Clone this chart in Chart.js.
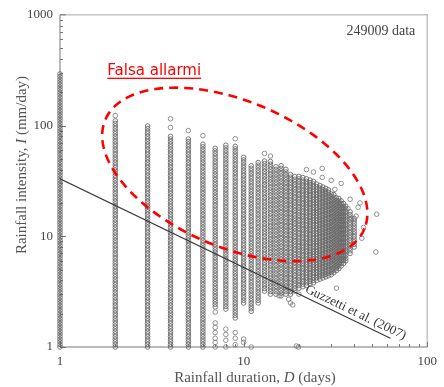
<!DOCTYPE html>
<html>
<head>
<meta charset="utf-8">
<script src="https://cdn.jsdelivr.net/npm/chart.js@4.4.1/dist/chart.umd.min.js"></script>
<style>
  html, body { margin: 0; padding: 0; background: #fff; }
  #wrap { width: 444px; height: 387px; }
</style>
</head>
<body>
<div id="wrap"><canvas id="myChart"></canvas></div>
<script>
// durations (days) holding a dense column of events, with the column's lower and upper intensity
const durations = [1, 2, 3, 4, 5, 6, 7, 8, 9, 10, 11, 12, 13, 14, 15, 16, 17, 18, 19, 20,
    21, 22, 23, 24, 25, 26, 27, 28, 29, 30, 31, 32, 33, 34, 35, 36, 38, 40];
const bandLow = [1, 1, 1, 1, 1, 1, 2.3, 2.2, 1.83, 2.5, 2.1, 2.5, 3.2, 3.0, 3.0, 2.9, 3.0, 3.0, 3.2, 3.4,
    3.5, 3.6, 3.7, 3.8, 4.0, 4.1, 4.2, 4.3, 4.4, 4.5, 4.7, 4.9, 5.1, 5.4, 5.7, 6.0, 7.0, 8.0];
const bandHigh = [300, 115, 100, 83, 75, 69, 65, 67, 67, 53, 44, 47, 49, 47, 44, 44, 40, 37, 36, 35,
    34, 33, 32, 31, 30, 29, 28, 27, 26, 25, 24, 23, 22, 21, 20, 19, 17, 15];

// isolated events outside the dense columns
const outlierD = [2, 4, 4, 5, 6, 9,
    7, 7, 7, 7, 7, 7, 7, 8, 8, 8, 8, 9, 9, 9, 10, 10, 11,
    13, 14, 15.6, 17.6, 18, 18.5, 19.4, 19.9, 20, 32,
    22, 24, 26.8, 26.8, 30, 31.4, 34, 37, 38, 38.6, 41, 42, 43, 45, 44, 52.5, 53];
const outlierI = [123, 96, 115, 90, 81, 76,
    2.07, 1.65, 1.5, 1.35, 1.2, 1.1, 1.0, 1.45, 1.3, 1.15, 1.0, 1.35, 1.2, 1.05, 1.18, 1.1, 1.0,
    56, 53, 2.9, 2.7, 2.5, 2.4, 1.02, 1.0, 3.0, 3.4,
    40, 38, 41, 34, 32, 26.5, 30, 17.8, 21.6, 14.5, 15.2, 18.3, 20, 12, 9.6, 7.2, 15.8];

// Guzzetti et al. (2007) threshold, end points
const thresholdD = [1, 63];
const thresholdI = [33, 1.2];
const thresholdLabelD = 39;

const xTicks = [1, 10, 100];
const yTicks = [1, 10, 100, 1000];

// false alarm region: ellipse in log-log space (centre, two conjugate semi-axes in decades)
const alarmCenter = [8.95, 36.2];
const alarmAxisA = [0.7065, -0.4882];
const alarmAxisB = [-0.1492, -0.6126];
const alarmLabelAt = [1.81, 288];

const serif = '"Liberation Serif", "Times New Roman", serif';

const frame = {
    id: 'frame',
    beforeDatasetsDraw(chart) {
        const c = chart.ctx;
        const { left, right, top, bottom } = chart.chartArea;
        const xs = chart.scales.x, ys = chart.scales.y;
        c.save();
        // light top / right border
        c.strokeStyle = '#c4c4c4';
        c.lineWidth = 1.5;
        c.beginPath();
        c.moveTo(left, top); c.lineTo(right, top); c.lineTo(right, bottom);
        c.stroke();
        // axes
        c.strokeStyle = '#777';
        c.lineWidth = 1;
        c.beginPath();
        c.moveTo(left, top); c.lineTo(left, bottom); c.lineTo(right, bottom);
        c.stroke();
        // inward ticks
        c.beginPath();
        for (let d = 1; d <= 100; d *= 10) {
            for (let m = 1; m <= 9; m++) {
                const len = m === 1 ? 6 : 3;
                const py = Math.round(ys.getPixelForValue(d * m)) + 0.5;
                c.moveTo(left, py); c.lineTo(left + len, py);
                if (d < 100 || m === 1) {
                    const px = Math.round(xs.getPixelForValue(d * m)) + 0.5;
                    c.moveTo(px, bottom); c.lineTo(px, bottom - (m === 1 ? 5 : 3));
                }
            }
        }
        c.moveTo(left, ys.getPixelForValue(1000)); c.lineTo(left + 6, ys.getPixelForValue(1000));
        c.stroke();
        c.restore();
    },
    afterDatasetDraw(chart, args) {
        // each band is drawn as a stack of open circles
        if (args.meta.type !== 'bar') return;
        const c = chart.ctx;
        c.save();
        c.strokeStyle = '#666';
        c.lineWidth = 0.85;
        args.meta.data.forEach(bar => {
            const y0 = Math.min(bar.y, bar.base), y1 = Math.max(bar.y, bar.base);
            for (let y = y1; y >= y0 - 0.5; y -= 2.6) {
                c.beginPath();
                c.arc(bar.x, y, 2.3, 0, Math.PI * 2);
                c.stroke();
            }
        });
        c.restore();
    },
    afterDatasetsDraw(chart) {
        const c = chart.ctx;
        const { left, right, top, bottom } = chart.chartArea;
        const xs = chart.scales.x, ys = chart.scales.y;
        c.save();

        // threshold label along the line
        const p0x = xs.getPixelForValue(thresholdD[0]), p0y = ys.getPixelForValue(thresholdI[0]);
        const p1x = xs.getPixelForValue(thresholdD[1]), p1y = ys.getPixelForValue(thresholdI[1]);
        const ang = Math.atan2(p1y - p0y, p1x - p0x);
        const lx = xs.getPixelForValue(thresholdLabelD);
        const ly = p0y + (lx - p0x) * Math.tan(ang);
        c.translate(lx + 8 * Math.sin(ang), ly - 8 * Math.cos(ang));
        c.rotate(ang);
        c.font = '13px ' + serif;
        c.fillStyle = '#333';
        c.textAlign = 'center';
        c.textBaseline = 'middle';
        c.fillText('Guzzetti et al. (2007)', 0, 0);
        c.setTransform(1, 0, 0, 1, 0, 0);

        // false alarm ellipse
        c.strokeStyle = '#ff0000';
        c.lineWidth = 2.6;
        c.setLineDash([9, 6]);
        c.beginPath();
        const cx = Math.log10(alarmCenter[0]), cy = Math.log10(alarmCenter[1]);
        for (let k = 0; k <= 180; k++) {
            const t = k / 180 * Math.PI * 2;
            const ex = cx + alarmAxisA[0] * Math.cos(t) + alarmAxisB[0] * Math.sin(t);
            const ey = cy + alarmAxisA[1] * Math.cos(t) + alarmAxisB[1] * Math.sin(t);
            const px = xs.getPixelForValue(10 ** ex), py = ys.getPixelForValue(10 ** ey);
            if (k) c.lineTo(px, py); else c.moveTo(px, py);
        }
        c.stroke();
        c.setLineDash([]);

        // false alarm label, underlined
        const fx = xs.getPixelForValue(alarmLabelAt[0]), fy = ys.getPixelForValue(alarmLabelAt[1]);
        c.font = '15px "DejaVu Sans", Verdana, sans-serif';
        c.fillStyle = '#ff0000';
        c.textAlign = 'left';
        c.textBaseline = 'alphabetic';
        c.fillText('Falsa allarmi', fx, fy);
        c.fillRect(fx, fy + 3, c.measureText('Falsa allarmi').width, 1.3);

        // sample size
        c.font = '14px ' + serif;
        c.fillStyle = '#444';
        c.textAlign = 'right';
        c.fillText('249009 data', right - 12, top + 20);

        // axis titles with italic symbols
        const drawTitle = (parts, x, y) => {
            let w = 0;
            parts.forEach(p => { c.font = p[1] + '15px ' + serif; w += c.measureText(p[0]).width; });
            let pos = x - w / 2;
            c.textAlign = 'left';
            parts.forEach(p => {
                c.font = p[1] + '15px ' + serif;
                c.fillText(p[0], pos, y);
                pos += c.measureText(p[0]).width;
            });
        };
        c.fillStyle = '#555';
        c.textBaseline = 'alphabetic';
        drawTitle([['Rainfall duration, ', ''], ['D', 'italic '], [' (days)', '']], 255, 382);
        c.translate(26, 165);
        c.rotate(-Math.PI / 2);
        drawTitle([['Rainfall intensity, ', ''], ['I', 'italic '], [' (mm/day)', '']], 0, 0);
        c.restore();
    }
};

const ctx = document.getElementById('myChart').getContext('2d');
new Chart(ctx, {
    type: 'scatter',
    data: {
        datasets: [
            {
                type: 'bar',
                data: durations.map((d, i) => ({ x: d, y: [bandLow[i], bandHigh[i]] })),
                backgroundColor: 'rgba(0,0,0,0)',
                borderWidth: 0,
                barThickness: 6,
                grouped: false,
                clip: false,
                order: 3
            },
            {
                type: 'scatter',
                data: outlierD.map((d, i) => ({ x: d, y: outlierI[i] })),
                pointRadius: 2.3,
                borderWidth: 0.8,
                borderColor: '#777',
                backgroundColor: 'rgba(0,0,0,0)',
                clip: false,
                order: 2
            },
            {
                type: 'line',
                data: thresholdD.map((d, i) => ({ x: d, y: thresholdI[i] })),
                borderColor: '#3a3a3a',
                borderWidth: 1.2,
                pointRadius: 0,
                fill: false,
                order: 1
            }
        ]
    },
    options: {
        animation: false,
        responsive: true,
        maintainAspectRatio: false,
        layout: { padding: { top: 13, right: 9, left: 0, bottom: 0 } },
        plugins: {
            legend: { display: false },
            tooltip: { enabled: false }
        },
        scales: {
            x: {
                type: 'logarithmic',
                min: 1,
                max: 100,
                afterBuildTicks: s => { s.ticks = xTicks.map(v => ({ value: v })); },
                afterFit: s => { s.height = 40; },
                ticks: {
                    autoSkip: false,
                    maxRotation: 0,
                    padding: 7,
                    color: '#444',
                    font: { family: serif, size: 13 },
                    callback: v => String(v)
                },
                grid: { display: false, drawTicks: false },
                border: { display: false }
            },
            y: {
                type: 'logarithmic',
                min: 1,
                max: 1000,
                afterBuildTicks: s => { s.ticks = yTicks.map(v => ({ value: v })); },
                afterFit: s => { s.width = 60; },
                ticks: {
                    autoSkip: false,
                    padding: 7,
                    color: '#444',
                    font: { family: serif, size: 13 },
                    callback: v => String(v)
                },
                grid: { display: false, drawTicks: false },
                border: { display: false }
            }
        }
    },
    plugins: [frame]
});
</script>
</body>
</html>
